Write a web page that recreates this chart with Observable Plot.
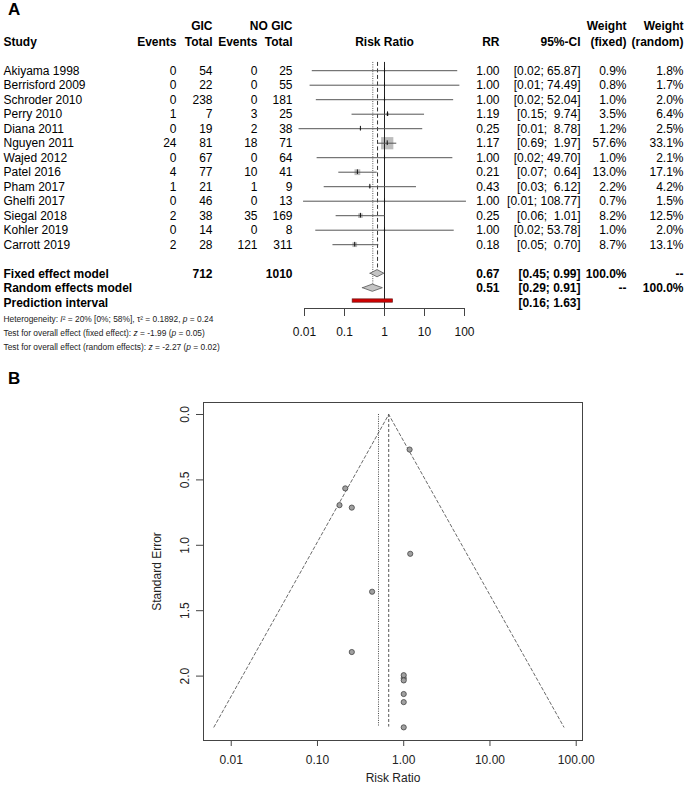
<!DOCTYPE html>
<html><head><meta charset="utf-8">
<script src="https://cdn.jsdelivr.net/npm/d3@7"></script>
<script src="https://cdn.jsdelivr.net/npm/@observablehq/plot@0.6"></script>
<style>
body{margin:0;background:#fff;}
#wrap{position:relative;width:685px;height:786px;font-family:"Liberation Sans",Arial,sans-serif;overflow:hidden;}
#wrap svg{position:absolute;left:0;top:0;}
.panel{position:absolute;font-weight:bold;font-size:17px;line-height:normal;color:#000;}
</style></head><body>
<div id="wrap">
<div class="panel" style="left:8px;top:0px">A</div>
<div class="panel" style="left:8px;top:369px">B</div>
</div>
<script>
// ---------------- DATA ----------------
const studies = ["Akiyama 1998","Berrisford 2009","Schroder 2010","Perry 2010","Diana 2011","Nguyen 2011","Wajed 2012","Patel 2016","Pham 2017","Ghelfi 2017","Siegal 2018","Kohler 2019","Carrott 2019"];
const gicEvents = [0,0,0,1,0,24,0,4,1,0,2,0,2];
const gicTotal  = [54,22,238,7,19,81,67,77,21,46,38,14,28];
const noEvents  = [0,0,0,3,2,18,0,10,1,0,35,0,121];
const noTotal   = [25,55,181,25,38,71,64,41,9,13,169,8,311];
const rr        = [1.00,1.00,1.00,1.19,0.25,1.17,1.00,0.21,0.43,1.00,0.25,1.00,0.18];
// drawn CI bounds (lower bounds estimated more precisely from the picture)
const ciLower   = [0.0152,0.0134,0.0192,0.15,0.0071,0.69,0.0201,0.07,0.0302,0.0092,0.06,0.0186,0.05];
const ciUpper   = [65.87,74.49,52.04,9.74,8.78,1.97,49.70,0.64,6.12,108.77,1.01,53.78,0.70];
const ciText    = ["[0.02; 65.87]","[0.01; 74.49]","[0.02; 52.04]","[0.15;\u00a0\u00a09.74]","[0.01;\u00a0\u00a08.78]","[0.69;\u00a0\u00a01.97]","[0.02; 49.70]","[0.07;\u00a0\u00a00.64]","[0.03;\u00a0\u00a06.12]","[0.01; 108.77]","[0.06;\u00a0\u00a01.01]","[0.02; 53.78]","[0.05;\u00a0\u00a00.70]"];
const weightFixed  = [0.9,0.8,1.0,3.5,1.2,57.6,1.0,13.0,2.2,0.7,8.2,1.0,8.7];
const weightRandom = [1.8,1.7,2.0,6.4,2.5,33.1,2.1,17.1,4.2,1.5,12.5,2.0,13.1];
const seLogRR   = [2.137,2.199,2.016,1.065,1.816,0.268,1.993,0.565,1.355,2.392,0.712,2.033,0.693];

const modelLabels = ["Fixed effect model","Random effects model","Prediction interval"];
const modelEst    = [0.67,0.51,null];
const modelLower  = [0.45,0.29,0.16];
const modelUpper  = [0.99,0.91,1.63];
const modelCiText = ["[0.45; 0.99]","[0.29; 0.91]","[0.16; 1.63]"];
const modelGicTotal = ["712","",""];
const modelNoTotal  = ["1010","",""];
const modelWFixed   = ["100.0%","--",""];
const modelWRandom  = ["--","100.0%",""];

const headerTop    = ["GIC","NO GIC","Weight","Weight"];
const headerBottom = ["Study","Events","Total","Events","Total","Risk Ratio","RR","95%-CI","(fixed)","(random)"];
const forestTicks  = [0.01,0.1,1,10,100];
const footer = [
  ["Heterogeneity: ",["I"],"\u00b2 = 20% [0%; 58%], \u03c4\u00b2 = 0.1892, ",["p"]," = 0.24"],
  ["Test for overall effect (fixed effect): ",["z"]," = -1.99 (",["p"]," = 0.05)"],
  ["Test for overall effect (random effects): ",["z"]," = -2.27 (",["p"]," = 0.02)"]
];

const funnelTicksX = [0.01,0.1,1,10,100];
const funnelTicksY = [0,0.5,1,1.5,2];
const funnelEdgeX  = [0.0063,0.67,72];
const funnelEdgeY  = [2.39,0,2.39];
const funnelSeMax  = 2.39;

// ---------------- LAYOUT ----------------
const font = '"Liberation Sans", Arial, sans-serif';
const colX = {study:3, gicEvents:176, gicTotal:212, noEvents:257, noTotal:292, rrHeader:384, rr:499, ci:580, wFixed:626, wRandom:683};
const headerTopCols = ["gicTotal","noTotal","wFixed","wRandom"];
const headerBottomCols = ["study","gicEvents","gicTotal","noEvents","noTotal","rrHeader","rr","ci","wFixed","wRandom"];
const rowScale = {domain:[0,16], range:[70.2,302.2]};
const modelRows = [14,15,16];
const footerRows = [17.15,18.1,19.05];
const rowTop = -0.57, rowAxis = 16.4, dHalf = 0.25;

const rows = studies.map((s,i)=>({row:i, study:s, ge:gicEvents[i], gt:gicTotal[i], ne:noEvents[i], nt:noTotal[i],
  rr:rr[i], lo:ciLower[i], hi:ciUpper[i], ci:ciText[i], wf:weightFixed[i], wr:weightRandom[i], se:seLogRR[i]}));
const models = modelLabels.map((m,i)=>({row:modelRows[i], label:m, est:modelEst[i], lo:modelLower[i], hi:modelUpper[i],
  ci:modelCiText[i], gt:modelGicTotal[i], nt:modelNoTotal[i], wf:modelWFixed[i], wr:modelWRandom[i]}));
const hTop = headerTop.map((t,i)=>({t, x:colX[headerTopCols[i]], anchor:"end"}));
const hBot = headerBottom.map((t,i)=>({t, x:colX[headerBottomCols[i]], anchor: i===0 ? "start" : (i===5 ? "middle" : "end")}));
const fmt2 = d3.format(".2f");
const pct = d => d.toFixed(1) + "%";

const wrap = document.getElementById("wrap");

// ---------------- TABLE ----------------
const tcol = (key, field, opts={}) => Plot.text(rows, {x: () => colX[key], y: "row", text: d => String(d[field]), textAnchor: "end", ...opts});
const mcol = (key, field) => Plot.text(models, {x: () => colX[key], y: "row", text: d => d[field], textAnchor: "end", fontWeight: "bold"});
const table = Plot.plot({
  width: 685, height: 360, margin: 0,
  style: {background: "transparent", fontFamily: font, fontSize: "12px", color: "#000", overflow: "visible"},
  x: {type: "identity", axis: null},
  y: {...rowScale, axis: null},
  marks: [
    Plot.text(hTop, {x: "x", y: () => -3.1, text: "t", textAnchor: "end", fontWeight: "bold"}),
    Plot.text(hBot.filter(d=>d.anchor==="end"), {x: "x", y: () => -2.0, text: "t", textAnchor: "end", fontWeight: "bold"}),
    Plot.text(hBot.filter(d=>d.anchor==="start"), {x: "x", y: () => -2.0, text: "t", textAnchor: "start", fontWeight: "bold"}),
    Plot.text(hBot.filter(d=>d.anchor==="middle"), {x: "x", y: () => -2.0, text: "t", textAnchor: "middle", fontWeight: "bold"}),
    Plot.text(rows, {x: () => colX.study, y: "row", text: "study", textAnchor: "start"}),
    tcol("gicEvents","ge"), tcol("gicTotal","gt"), tcol("noEvents","ne"), tcol("noTotal","nt"),
    Plot.text(rows, {x: () => colX.rr, y: "row", text: d => fmt2(d.rr), textAnchor: "end"}),
    Plot.text(rows, {x: () => colX.ci, y: "row", text: "ci", textAnchor: "end"}),
    Plot.text(rows, {x: () => colX.wFixed, y: "row", text: d => pct(d.wf), textAnchor: "end"}),
    Plot.text(rows, {x: () => colX.wRandom, y: "row", text: d => pct(d.wr), textAnchor: "end"}),
    Plot.text(models, {x: () => colX.study, y: "row", text: "label", textAnchor: "start", fontWeight: "bold"}),
    mcol("gicTotal","gt"), mcol("noTotal","nt"),
    Plot.text(models.filter(d=>d.est!=null), {x: () => colX.rr, y: "row", text: d => fmt2(d.est), textAnchor: "end", fontWeight: "bold"}),
    mcol("ci","ci"), mcol("wFixed","wf"), mcol("wRandom","wr"),
    Plot.text(footer, {x: () => colX.study, y: (d,i) => footerRows[i], text: d => d.map(s => typeof s === "string" ? s : s[0]).join(""), textAnchor: "start", fontSize: 8.4, fill: "#222"})
  ]
});
wrap.appendChild(table);
// italic parts of the footer
footer.forEach(segs => {
  const full = segs.map(s => typeof s === "string" ? s : s[0]).join("");
  d3.select(table).selectAll("text").filter(function(){ return this.textContent === full; }).each(function(){
    const el = d3.select(this); el.text(null);
    segs.forEach(s => el.append("tspan").attr("font-style", typeof s === "string" ? null : "italic").text(typeof s === "string" ? s : s[0]));
  });
});

// ---------------- FOREST GRAPHIC ----------------
const diamonds = [];
models.filter(d=>d.est!=null).forEach(d => {
  diamonds.push({z:d.label, x:d.lo, y1:d.row, y2:d.row});
  diamonds.push({z:d.label, x:d.est, y1:d.row-dHalf, y2:d.row+dHalf});
  diamonds.push({z:d.label, x:d.hi, y1:d.row, y2:d.row});
});
const pred = models.filter(d=>d.est==null);
const forest = Plot.plot({
  width: 685, height: 360,
  marginLeft: 304, marginRight: 221, marginTop: 0, marginBottom: 52,
  style: {background: "transparent", fontFamily: font, fontSize: "12px", color: "#111", overflow: "visible"},
  x: {type: "log", domain: [0.01, 100]},
  y: {...rowScale, axis: null},
  r: {type: "sqrt", domain: [0, 57.6], range: [0, 6.9]},
  marks: [
    Plot.frame({anchor: "bottom", stroke: "#444"}),
    Plot.axisX({ticks: forestTicks, tickFormat: d => String(d), tickSize: 8, tickPadding: 11, stroke: "#444", fontSize: 12, label: null}),
    Plot.dot(rows, {x: "rr", y: "row", r: "wf", symbol: "square", fill: "#bdbdbd", stroke: null}),
    Plot.ruleX([1], {y1: rowTop, y2: rowAxis, stroke: "#222"}),
    Plot.ruleX([models[0].est], {y1: rowTop, y2: models[0].row - dHalf, stroke: "#333", strokeDasharray: "4,2.5"}),
    Plot.ruleX([models[1].est], {y1: rowTop, y2: models[1].row - dHalf, stroke: "#555", strokeDasharray: "1,1.3"}),
    Plot.link(rows, {x1: "lo", x2: "hi", y1: "row", y2: "row", stroke: "#555"}),
    Plot.ruleX(rows, {x: "rr", y1: d => d.row - 0.16, y2: d => d.row + 0.16, stroke: "#111"}),
    Plot.areaY(diamonds, {x: "x", y1: "y1", y2: "y2", z: "z", fill: "#c4c4c4", stroke: "#555", strokeWidth: 0.8, curve: "linear"}),
    Plot.rect(pred, {x1: "lo", x2: "hi", y1: d => d.row - 0.23, y2: d => d.row + 0.0, fill: "#d00000", stroke: "#6a1a1a", strokeWidth: 0.7})
  ]
});
wrap.appendChild(forest);

// ---------------- FUNNEL ----------------
const funnelPts = funnelEdgeX.map((x,i)=>({x, y: funnelEdgeY[i]}));
const funnel = Plot.plot({
  width: 685, height: 786,
  marginTop: 402, marginBottom: 46, marginLeft: 203, marginRight: 103,
  style: {background: "transparent", fontFamily: font, fontSize: "12px", color: "#222", overflow: "visible"},
  x: {type: "log", domain: [0.00477, 118.3]},
  y: {domain: [-0.0917, 2.4924], reverse: true},
  marks: [
    Plot.frame({stroke: "#444"}),
    Plot.axisX({ticks: funnelTicksX, tickFormat: d3.format(".2f"), tickSize: 6, tickPadding: 9, stroke: "#444", fontSize: 12, label: null}),
    Plot.axisY({ticks: funnelTicksY, tickFormat: d3.format(".1f"), tickSize: 7, tickPadding: 8, tickRotate: -90, stroke: "#444", fontSize: 12, label: null}),
    Plot.line(funnelPts, {x: "x", y: "y", stroke: "#444", strokeWidth: 0.8, strokeDasharray: "3,2.5"}),
    Plot.ruleX([models[1].est], {y1: 0, y2: funnelSeMax, stroke: "#333", strokeWidth: 0.9, strokeDasharray: "1,1.3"}),
    Plot.ruleX([models[0].est], {y1: 0, y2: funnelSeMax, stroke: "#444", strokeWidth: 0.9, strokeDasharray: "3,2"}),
    Plot.dot(rows, {x: "rr", y: "se", r: 2.6, fill: "#a0a0a0", stroke: "#444", strokeWidth: 0.8}),
    Plot.text(["Standard Error"], {frameAnchor: "left", dx: -46, rotate: -90, textAnchor: "middle", lineAnchor: "middle", fontSize: 12}),
    Plot.text(["Risk Ratio"], {frameAnchor: "bottom", dy: 38, textAnchor: "middle", lineAnchor: "middle", fontSize: 12})
  ]
});
wrap.appendChild(funnel);
</script>
</body></html>
